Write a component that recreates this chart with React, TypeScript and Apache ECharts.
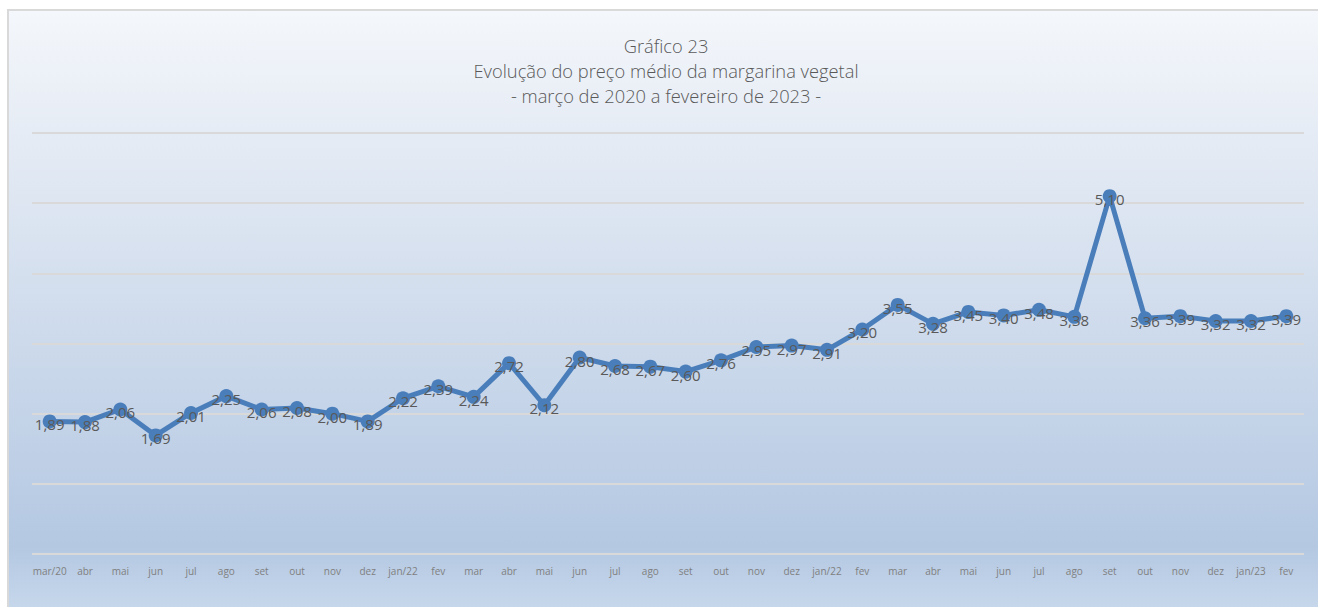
import React, { useEffect, useRef } from "react";
import * as echarts from "echarts";

const months = [
  "mar/20", "abr", "mai", "jun", "jul", "ago", "set", "out", "nov", "dez", "jan/22", "fev",
  "mar", "abr", "mai", "jun", "jul", "ago", "set", "out", "nov", "dez", "jan/22", "fev",
  "mar", "abr", "mai", "jun", "jul", "ago", "set", "out", "nov", "dez", "jan/23", "fev",
];

const prices = [
  1.89, 1.88, 2.06, 1.69, 2.01, 2.25, 2.06, 2.08, 2.0, 1.89, 2.22, 2.39,
  2.24, 2.72, 2.12, 2.8, 2.68, 2.67, 2.6, 2.76, 2.95, 2.97, 2.91, 3.2,
  3.55, 3.28, 3.45, 3.4, 3.48, 3.38, 5.1, 3.36, 3.39, 3.32, 3.32, 3.39,
];

const titleLines = [
  "Gráfico 23",
  "Evolução do preço médio da margarina vegetal",
  "- março de 2020 a fevereiro de 2023 -",
];

export default function App() {
  const ref = useRef<HTMLDivElement>(null);

  useEffect(() => {
    document.body.style.margin = "0";
    document.body.style.overflow = "hidden";
    document.documentElement.style.overflow = "hidden";
    if (!ref.current) return;
    const chart = echarts.init(ref.current, null, { renderer: "svg" });
    chart.setOption({
      animation: false,
      backgroundColor: new echarts.graphic.LinearGradient(0, 0, 0, 1, [
        { offset: 0, color: "#f4f7fb" },
        { offset: 0.2, color: "#e6ecf5" },
        { offset: 0.9, color: "#b4c8e2" },
        { offset: 1, color: "#c6d7eb" },
      ]),
      title: {
        text: titleLines.join("\n"),
        left: 652,
        textAlign: "center",
        top: 17,
        textStyle: {
          fontFamily: "'Open Sans', sans-serif",
          fontWeight: 300,
          fontSize: 18.3,
          lineHeight: 25,
          color: "#595959",
        },
      },
      grid: { left: 23, right: 14, top: 122, bottom: 53 },
      xAxis: {
        type: "category",
        data: months,
        boundaryGap: true,
        axisLine: { show: false },
        axisTick: { show: false },
        axisLabel: {
          interval: 0,
          margin: 12,
          fontSize: 10,
          color: "#7f7f7f",
          fontFamily: "'Open Sans', sans-serif",
        },
      },
      yAxis: {
        type: "value",
        min: 0,
        max: 6,
        interval: 1,
        axisLabel: { show: false },
        axisLine: { show: false },
        axisTick: { show: false },
        splitLine: { lineStyle: { color: "#d9d9d9", width: 2 } },
      },
      series: [
        {
          type: "line",
          data: prices,
          symbol: "circle",
          symbolSize: 14,
          lineStyle: { color: "#4a7ebb", width: 5 },
          itemStyle: { color: "#4a7ebb" },
          label: {
            show: true,
            position: "inside",
            offset: [0, 3],
            fontSize: 15,
            color: "#595959",
            fontFamily: "'Open Sans', sans-serif",
            formatter: (p: any) => Number(p.value).toFixed(2).replace(".", ","),
          },
        },
      ],
    });
    return () => chart.dispose();
  }, []);

  return (
    <div
      ref={ref}
      style={{
        position: "absolute",
        left: 7,
        top: 9,
        width: 1311,
        height: 598,
        borderTop: "2px solid #d9d9d9",
        borderLeft: "2px solid #d9d9d9",
        boxSizing: "border-box",
      }}
    />
  );
}
